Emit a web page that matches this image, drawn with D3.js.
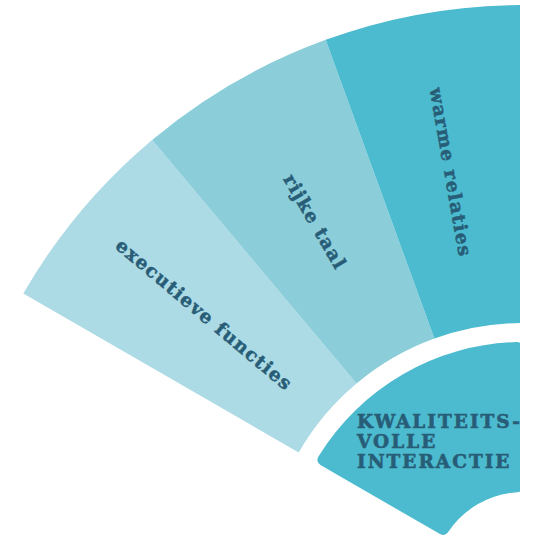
<!DOCTYPE html>
<html>
<head>
<meta charset="utf-8">
<script src="https://cdn.jsdelivr.net/npm/d3@7/dist/d3.min.js"></script>
<style>
  body { margin: 0; background: #fff; }
  svg { display: block; }
</style>
</head>
<body>
<div id="graph"></div>
<script>
// outer ring segments, left to right
const segments = ['executieve functies', 'rijke taal', 'warme relaties'];
const segmentColors = ['#acdae5', '#8ccdda', '#4cbbcf'];
// inner core label
const coreLines = ['KWALITEITS-', 'VOLLE', 'INTERACTIE'];
const coreColor = '#4cbbcf';

const w = 539;
const h = 538;
const cx = 523, cy = 582;
const deg = Math.PI / 180;
const ink = '#285d77';

const svg = d3.select('#graph')
  .append('svg')
  .attr('width', w)
  .attr('height', h);

svg.append('defs').append('clipPath')
  .attr('id', 'cut')
  .append('rect')
  .attr('x', 0).attr('y', 0)
  .attr('width', 520).attr('height', h);

const g = svg.append('g')
  .attr('clip-path', 'url(#cut)')
  .append('g')
  .attr('transform', `translate(${cx},${cy})`);

// angle per segment (d3 convention, 0 = up)
const angle = d3.scaleBand()
  .domain(segments)
  .range([-60 * deg, 0]);

const ringArc = d3.arc()
  .innerRadius(259)
  .outerRadius(577);

g.selectAll('.seg')
  .data(segments)
  .enter()
  .append('path')
  .attr('class', 'seg')
  .attr('d', d => ringArc({startAngle: angle(d), endAngle: angle(d) + angle.bandwidth()}))
  .style('fill', (d, i) => segmentColors[i]);

const coreArc = d3.arc()
  .innerRadius(90)
  .outerRadius(240)
  .cornerRadius(6);

g.append('path')
  .attr('d', coreArc({startAngle: -60 * deg, endAngle: 0}))
  .style('fill', coreColor);

// radial labels
const labelR = 416;
g.selectAll('.lbl')
  .data(segments)
  .enter()
  .append('text')
  .attr('class', 'lbl')
  .attr('transform', d => {
    const a = angle(d) + angle.bandwidth() / 2;
    const x = labelR * Math.sin(a);
    const y = -labelR * Math.cos(a);
    return `translate(${x},${y}) rotate(${a / deg + 90})`;
  })
  .attr('text-anchor', 'middle')
  .attr('dy', '0.35em')
  .style('font-family', 'DejaVu Serif')
  .style('font-weight', 'bold')
  .style('font-size', '18.5px')
  .style('letter-spacing', '1.3px')
  .style('fill', ink)
  .style('stroke', ink)
  .style('stroke-width', '0.5px')
  .text(d => d);

svg.append('text')
  .attr('x', 357)
  .attr('y', 428)
  .style('font-family', 'DejaVu Serif')
  .style('font-weight', 'bold')
  .style('font-size', '18.5px')
  .style('letter-spacing', '2px')
  .style('fill', ink)
  .style('stroke', ink)
  .style('stroke-width', '0.6px')
  .selectAll('tspan')
  .data(coreLines)
  .enter()
  .append('tspan')
  .attr('x', 357)
  .attr('dy', (d, i) => i === 0 ? 0 : 20)
  .text(d => d);
</script>
</body>
</html>
